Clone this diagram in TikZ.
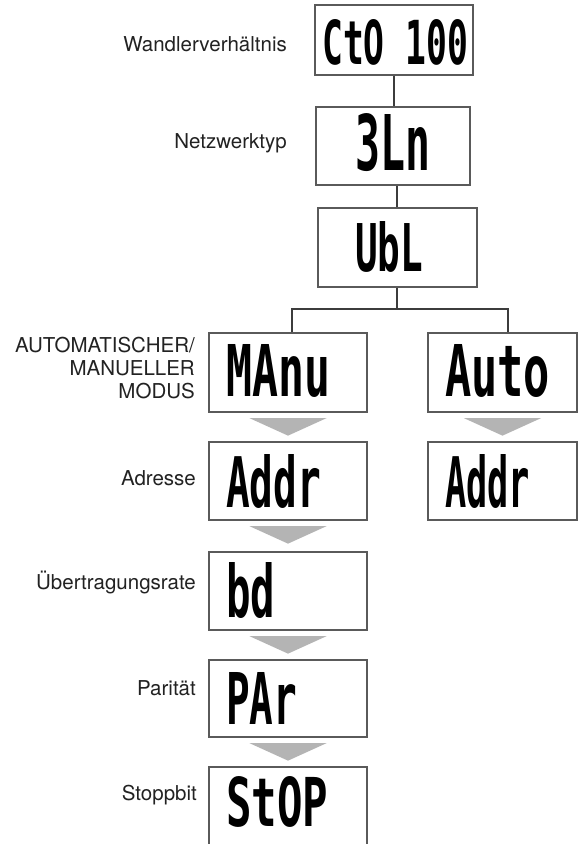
\documentclass[tikz,border=0pt]{standalone}
\usepackage{fontspec}
\usepackage{graphicx}
\setmainfont{TeX Gyre Heros}
\newfontfamily\lcdfont{DejaVu Sans Mono}
\usetikzlibrary{calc}
\definecolor{boxgray}{HTML}{5A5A5A}
\definecolor{conngray}{HTML}{3C3C3C}
\definecolor{arrgray}{HTML}{B4B4B4}
\definecolor{txtcol}{HTML}{222222}
\newcommand{\lcdtxt}[3]{\resizebox{#1pt}{#2pt}{\lcdfont\bfseries #3}}
\newcommand{\flowtri}[1]{\fill[arrgray] ($(#1.south)+(-38.5,5.5)$) -- ($(#1.south)+(38.5,5.5)$) -- ($(#1.south)+(0,23)$) -- cycle;}
\begin{document}
\begin{tikzpicture}[x=1pt,y=-1pt,
  disp/.style={draw=boxgray, line width=1.3pt, fill=white, inner sep=0pt},
  conn/.style={draw=conngray, line width=1.2pt},
  lcd/.style={inner sep=0pt, anchor=west, text=black},
  lbl/.style={anchor=east, inner sep=0pt, text=txtcol, font=\fontsize{20.5}{23}\selectfont, align=right}]
\clip (0,0) rectangle (578,844);
\fill[white] (0,0) rectangle (578,844);

% display boxes
\node[disp, minimum width=158pt, minimum height=70pt] (b1) at (394,40) {};
\node[disp, minimum width=154pt, minimum height=78pt] (b2) at (393,146) {};
\node[disp, minimum width=159pt, minimum height=79pt] (b3) at (397.5,247.5) {};
\node[disp, minimum width=158pt, minimum height=79pt] (ma) at (288,372.5) {};
\node[disp, minimum width=149pt, minimum height=79pt] (au) at (502.5,372.5) {};
\node[disp, minimum width=158pt, minimum height=78pt] (adl) at (288,481) {};
\node[disp, minimum width=149pt, minimum height=78pt] (adr) at (502.5,481) {};
\node[disp, minimum width=158pt, minimum height=78pt] (bd) at (288,591) {};
\node[disp, minimum width=158pt, minimum height=77pt] (pa) at (288,698.5) {};
\node[disp, minimum width=158pt, minimum height=78pt] (st) at (288,806) {};

% display texts
\node[lcd] (t1) at (322,42.5) {\lcdtxt{146}{45}{CtO 100}};
\node[lcd] (t2) at (355,143) {\lcdtxt{75}{57}{3Ln}};
\node[lcd] (t3) at (355,247) {\lcdtxt{68}{50}{UbL}};
\node[lcd] (t4) at (226,371) {\lcdtxt{104}{52}{MAnu}};
\node[lcd] (t5) at (445,371) {\lcdtxt{105}{52}{Auto}};
\node[lcd] (t6) at (226,481.5) {\lcdtxt{95}{53}{Addr}};
\node[lcd] (t7) at (445,481.5) {\lcdtxt{85}{53}{Addr}};
\node[lcd] (t8) at (226,590.5) {\lcdtxt{49}{55}{bd}};
\node[lcd] (t9) at (226,698) {\lcdtxt{71}{52}{PAr}};
\node[lcd] (t10) at (226,802) {\lcdtxt{102}{50}{StOP}};

% connectors
\draw[conn] (b1.south) -- (b1.south |- b2.north);
\draw[conn] (b3.north -| 397,0) -- (b2.south -| 397,0);
\coordinate (j) at (397,309);
\coordinate (jl) at (292,309);
\coordinate (jr) at (508,309);
\draw[conn] (b3.south -| j) -- (j);
\draw[conn] (ma.north -| jl) -- (jl) -- (jr) -- (au.north -| jr);

% flow triangles
\flowtri{ma}
\flowtri{au}
\flowtri{adl}
\flowtri{bd}
\flowtri{pa}

% labels
\node[lbl] (l1) at (287,44) {Wandlerverhältnis};
\node[lbl] (l2) at (287,143) {Netzwerktyp};
\node[lbl] (l3) at (195,368) {AUTOMATISCHER/\\MANUELLER\\MODUS};
\node[lbl] (l4) at (196,478) {Adresse};
\node[lbl] (l5) at (196,582) {Übertragungsrate};
\node[lbl] (l6) at (196,688) {Parität};
\node[lbl] (l7) at (197,795) {Stoppbit};
\end{tikzpicture}
\end{document}
